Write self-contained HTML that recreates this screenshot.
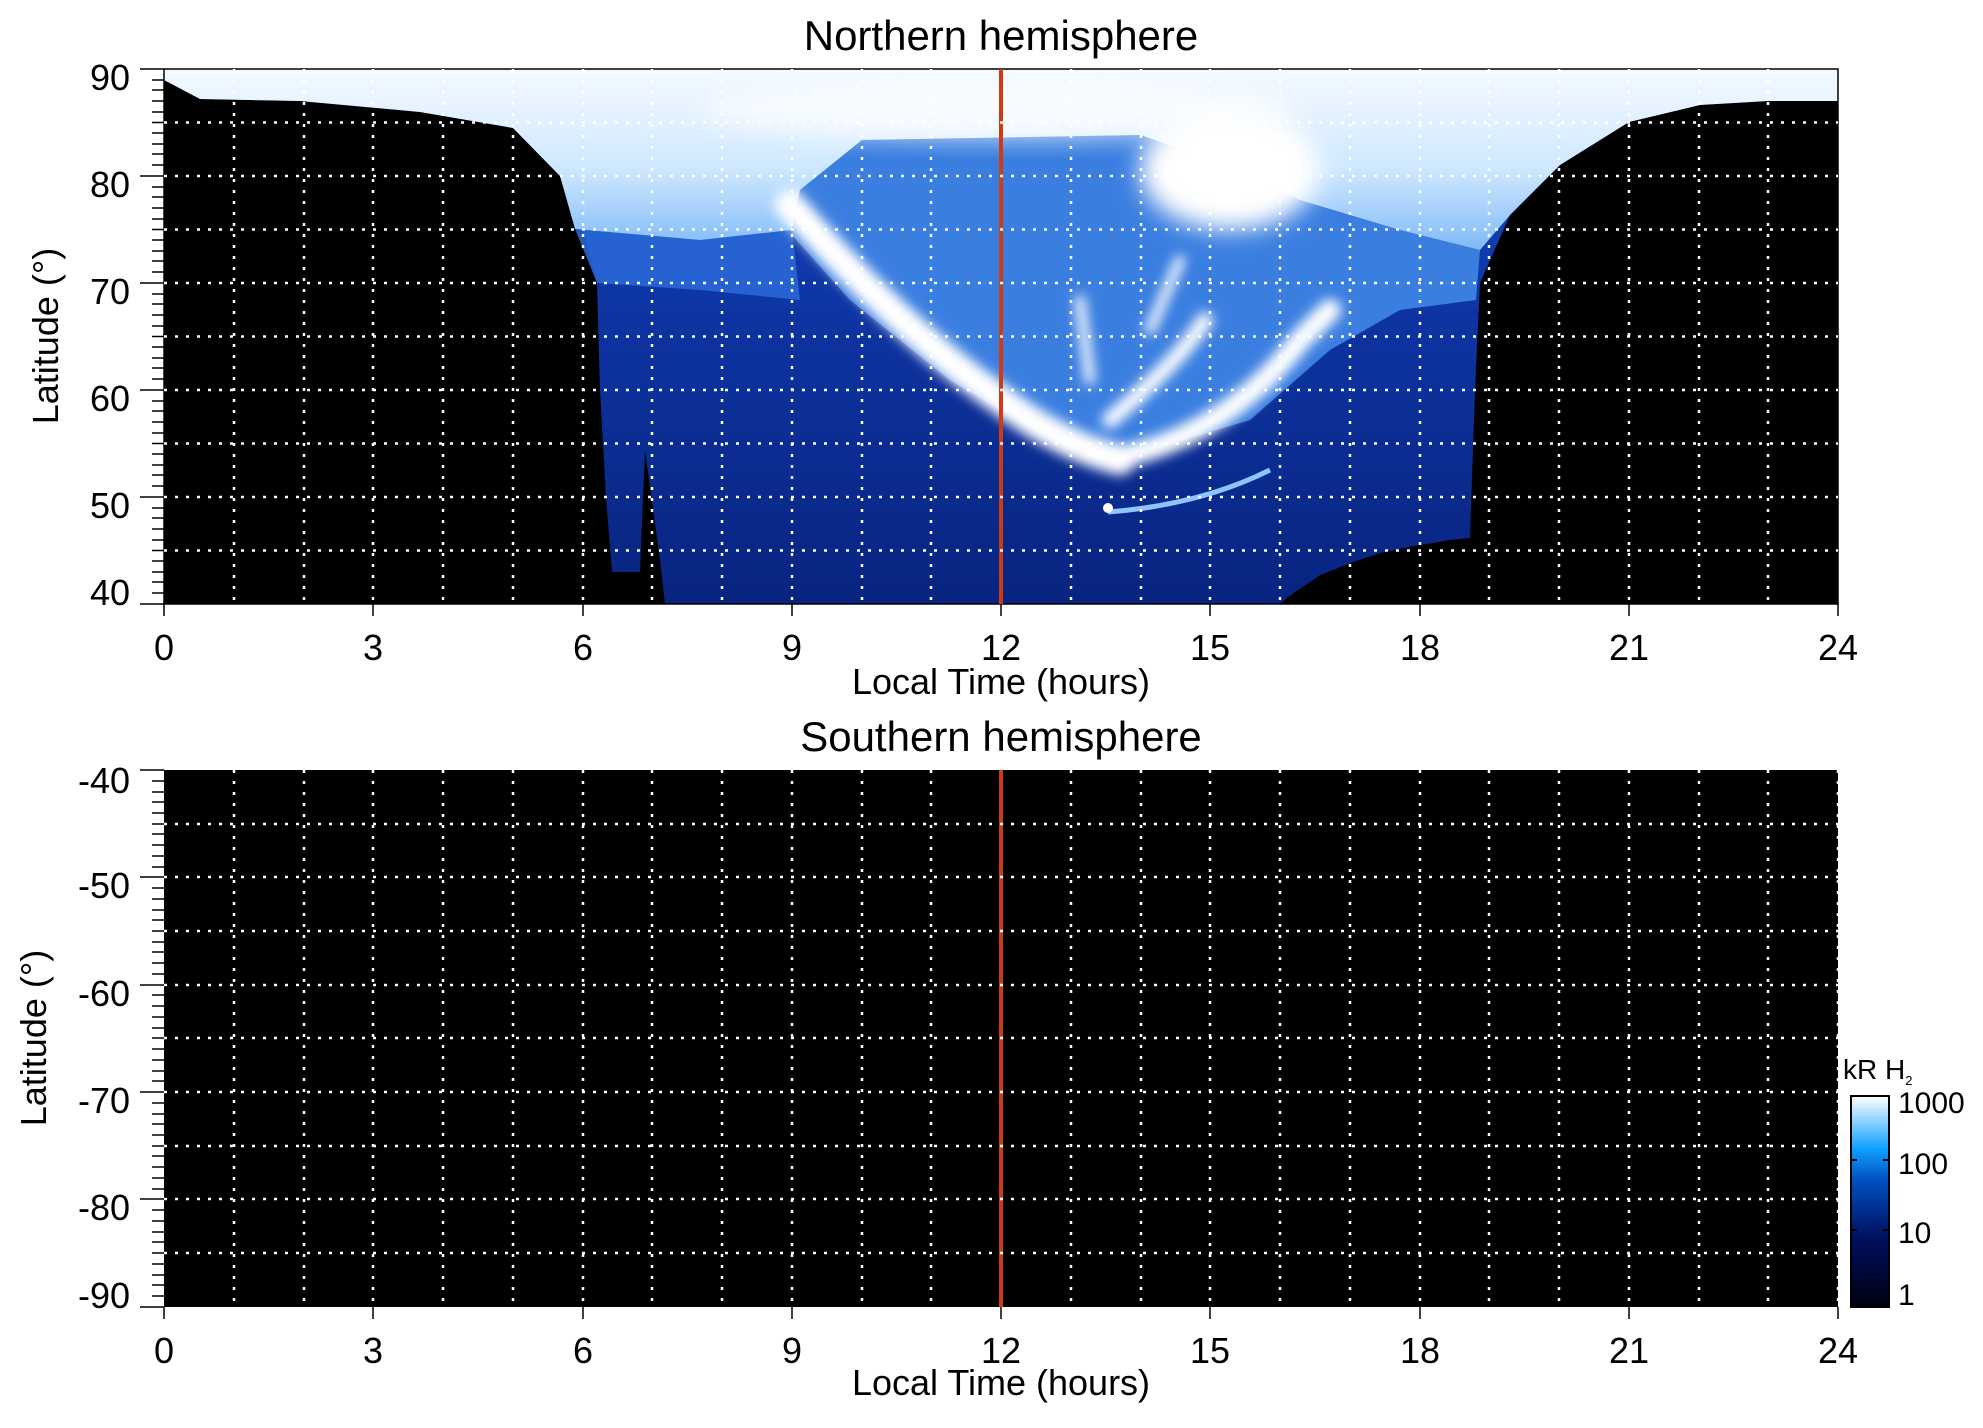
<!DOCTYPE html>
<html><head><meta charset="utf-8"><style>
html,body{margin:0;padding:0;background:#fff;}
svg text{font-family:"Liberation Sans",sans-serif;fill:#000;}
</style></head><body>
<svg width="1983" height="1423" viewBox="0 0 1983 1423" xmlns="http://www.w3.org/2000/svg">
<defs>
<filter id="b6" x="-20%" y="-20%" width="140%" height="140%"><feGaussianBlur stdDeviation="6"/></filter>
<filter id="b12" x="-30%" y="-30%" width="160%" height="160%"><feGaussianBlur stdDeviation="12"/></filter>
<linearGradient id="lb" x1="0" y1="0" x2="0" y2="1">
<stop offset="0" stop-color="#f4faff"/><stop offset="0.55" stop-color="#cfe8ff"/><stop offset="1" stop-color="#7fbaf7"/></linearGradient>
<linearGradient id="db" x1="0" y1="0" x2="0" y2="1">
<stop offset="0" stop-color="#1a55c8"/><stop offset="0.4" stop-color="#0e36a6"/><stop offset="1" stop-color="#082480"/></linearGradient>
<linearGradient id="cb" x1="0" y1="1" x2="0" y2="0">
<stop offset="0" stop-color="#000010"/><stop offset="0.33" stop-color="#001060"/><stop offset="0.6" stop-color="#0050c0"/><stop offset="0.75" stop-color="#10a0ff"/><stop offset="1" stop-color="#ffffff"/></linearGradient>
<clipPath id="cp"><rect x="164" y="69" width="1674" height="535"/></clipPath>
</defs>

<text x="1001" y="50" font-size="42" text-anchor="middle">Northern hemisphere</text>
<rect x="164" y="69" width="1674" height="535" fill="#000"/>
<g clip-path="url(#cp)">
<polygon fill="url(#db)" points="164,80 200,99 300,101 420,112 513,128 560,176 583,229 597,283 600,390 606,497 612,572 640,572 645,450 660,560 665,604 1280,604 1320,575 1380,553 1450,540 1470,538 1475,390 1480,283 1510,215 1560,165 1629,122 1700,105 1768,101 1838,101 1838,69 164,69"/>
<polygon fill="#2a6ad8" opacity="0.85" points="575,229 700,240 792,230 800,300 700,290 597,283"/>
<polygon fill="#3a7ee0" points="800,190 792,235 850,300 950,380 1050,440 1100,460 1150,450 1250,420 1330,350 1400,310 1476,300 1480,250 1400,230 1210,160 1141,135 862,140"/>
<polygon fill="url(#lb)" points="164,80 200,99 300,101 420,112 513,128 560,176 575,229 700,240 792,230 800,190 862,140 1141,135 1210,160 1300,200 1400,230 1480,250 1510,215 1560,165 1629,122 1700,105 1768,101 1838,101 1838,69 164,69"/>
<g filter="url(#b6)" fill="none" stroke="#fff" stroke-linecap="round">
<path d="M790,205 Q900,330 1001,400 Q1060,445 1120,460" stroke-width="30"/>
<path d="M1130,455 Q1230,430 1300,340 L1330,310" stroke-width="22"/>
<path d="M1110,420 Q1180,360 1205,320" stroke-width="16"/>
<path d="M1080,300 L1090,380" stroke-width="10"/>
<path d="M1150,330 L1180,260" stroke-width="10"/>
</g>
<ellipse cx="1230" cy="170" rx="90" ry="60" fill="#fff" filter="url(#b12)"/>
<ellipse cx="1000" cy="110" rx="300" ry="30" fill="#fff" opacity="0.7" filter="url(#b12)"/>
<path d="M1108,512 Q1200,505 1270,470" stroke="#8ec4ff" stroke-width="5" fill="none"/>
<circle cx="1108" cy="508" r="5" fill="#fff"/>
<path d="M1280,604 Q1330,560 1420,545 L1470,538 L1470,604 Z" fill="#000"/>
</g>
<rect x="164" y="69" width="1674" height="535" fill="none" stroke="#000" stroke-width="1.5"/>
<line x1="1001" y1="69" x2="1001" y2="604" stroke="#d03a10" stroke-width="4"/>

<text x="1001" y="751" font-size="42" text-anchor="middle">Southern hemisphere</text>
<rect x="164" y="770" width="1674" height="537" fill="#000"/>
<line x1="1001" y1="770" x2="1001" y2="1307" stroke="#d03a10" stroke-width="4"/>

<g id="grid" stroke="#fff" stroke-width="2.5" stroke-dasharray="3,8">
<path d="M234,69V604M304,69V604M373,69V604M443,69V604M513,69V604M583,69V604M652,69V604M722,69V604M792,69V604M862,69V604M931,69V604M1071,69V604M1141,69V604M1210,69V604M1280,69V604M1350,69V604M1420,69V604M1489,69V604M1559,69V604M1629,69V604M1699,69V604M1768,69V604"/>
<path d="M164,122.5H1838M164,176H1838M164,229.5H1838M164,283H1838M164,336.5H1838M164,390H1838M164,443.5H1838M164,497H1838M164,550.5H1838"/>
<path d="M234,770V1307M304,770V1307M373,770V1307M443,770V1307M513,770V1307M583,770V1307M652,770V1307M722,770V1307M792,770V1307M862,770V1307M931,770V1307M1071,770V1307M1141,770V1307M1210,770V1307M1280,770V1307M1350,770V1307M1420,770V1307M1489,770V1307M1559,770V1307M1629,770V1307M1699,770V1307M1768,770V1307M1838,770V1307"/>
<path d="M164,824H1838M164,877H1838M164,931H1838M164,985H1838M164,1038H1838M164,1092H1838M164,1146H1838M164,1199H1838M164,1253H1838"/>
</g>

<g stroke="#000" stroke-width="1.5">
<path d="M140,69H164M140,176H164M140,283H164M140,390H164M140,497H164M140,604H164"/>
<path d="M152,80H164M152,90H164M152,101H164M152,112H164M152,122.5H164M152,133H164M152,144H164M152,154H164M152,165H164M152,187H164M152,197H164M152,208H164M152,219H164M152,229.5H164M152,240H164M152,251H164M152,261H164M152,272H164M152,294H164M152,304H164M152,315H164M152,326H164M152,336.5H164M152,347H164M152,358H164M152,368H164M152,379H164M152,401H164M152,411H164M152,422H164M152,433H164M152,443.5H164M152,454H164M152,465H164M152,475H164M152,486H164M152,508H164M152,518H164M152,529H164M152,540H164M152,550.5H164M152,561H164M152,572H164M152,582H164M152,593H164"/>
<path d="M140,770H164M140,877H164M140,985H164M140,1092H164M140,1199H164M140,1307H164"/>
<path d="M152,781H164M152,792H164M152,802H164M152,813H164M152,824H164M152,834H164M152,845H164M152,856H164M152,867H164M152,888H164M152,899H164M152,910H164M152,920H164M152,931H164M152,942H164M152,952H164M152,963H164M152,974H164M152,995H164M152,1006H164M152,1017H164M152,1028H164M152,1038H164M152,1049H164M152,1060H164M152,1071H164M152,1081H164M152,1103H164M152,1114H164M152,1124H164M152,1135H164M152,1146H164M152,1156H164M152,1167H164M152,1178H164M152,1189H164M152,1210H164M152,1221H164M152,1232H164M152,1242H164M152,1253H164M152,1264H164M152,1275H164M152,1285H164M152,1296H164"/>
<path d="M164,604v12M373,604v12M583,604v12M792,604v12M1001,604v12M1210,604v12M1420,604v12M1629,604v12M1838,604v12"/>
<path d="M164,1307v12M373,1307v12M583,1307v12M792,1307v12M1001,1307v12M1210,1307v12M1420,1307v12M1629,1307v12M1838,1307v12"/>
</g>

<g font-size="36" text-anchor="end">
<text x="130" y="90">90</text><text x="130" y="197">80</text><text x="130" y="304">70</text><text x="130" y="411">60</text><text x="130" y="518">50</text><text x="130" y="605">40</text>
<text x="130" y="793">-40</text><text x="130" y="898">-50</text><text x="130" y="1006">-60</text><text x="130" y="1113">-70</text><text x="130" y="1220">-80</text><text x="130" y="1308">-90</text>
</g>
<g font-size="36" text-anchor="middle">
<text x="164" y="660">0</text><text x="373" y="660">3</text><text x="583" y="660">6</text><text x="792" y="660">9</text><text x="1001" y="660">12</text><text x="1210" y="660">15</text><text x="1420" y="660">18</text><text x="1629" y="660">21</text><text x="1838" y="660">24</text>
<text x="164" y="1363">0</text><text x="373" y="1363">3</text><text x="583" y="1363">6</text><text x="792" y="1363">9</text><text x="1001" y="1363">12</text><text x="1210" y="1363">15</text><text x="1420" y="1363">18</text><text x="1629" y="1363">21</text><text x="1838" y="1363">24</text>
<text x="1001" y="694">Local Time (hours)</text>
<text x="1001" y="1395">Local Time (hours)</text>
<text transform="translate(58,336) rotate(-90)">Latitude (°)</text>
<text transform="translate(46,1038) rotate(-90)">Latitude (°)</text>
</g>

<rect x="1851" y="1096" width="38" height="211" fill="url(#cb)" stroke="#000" stroke-width="2"/>
<g stroke="#000" stroke-width="2"><path d="M1851,1160h6M1889,1160h-6M1851,1230h6M1889,1230h-6"/></g>
<text x="1843" y="1079" font-size="28">kR H<tspan font-size="13" dy="6">2</tspan></text>
<g font-size="30">
<text x="1898" y="1113">1000</text><text x="1898" y="1174">100</text><text x="1898" y="1243">10</text><text x="1898" y="1305">1</text>
</g>
</svg>
</body></html>
